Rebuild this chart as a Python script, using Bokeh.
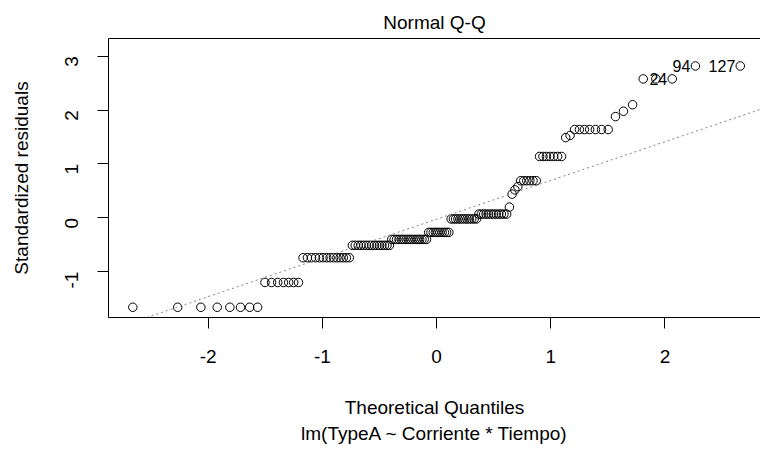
import math
import numpy as np
from bokeh.plotting import figure
from bokeh.models import Range1d, FixedTicker, LinearAxis, Slope, Title, ColumnDataSource
from bokeh.embed import file_html
from bokeh.resources import INLINE
from bokeh.core.properties import value

# ---- data ----
theoretical_quantiles = [
    -2.660, -2.267, -2.064, -1.921, -1.810, -1.717, -1.637, -1.567,
    -1.503, -1.445, -1.391, -1.341, -1.295, -1.251, -1.209, -1.169,
    -1.131, -1.095, -1.060, -1.026, -0.994, -0.962, -0.932, -0.902,
    -0.873, -0.845, -0.817, -0.790, -0.764, -0.737, -0.712, -0.686,
    -0.662, -0.638, -0.614, -0.590, -0.567, -0.545, -0.522, -0.500,
    -0.478, -0.456, -0.434, -0.413, -0.392, -0.371, -0.350, -0.329,
    -0.308, -0.288, -0.267, -0.247, -0.227, -0.207, -0.187, -0.167,
    -0.148, -0.128, -0.108, -0.088, -0.069, -0.049, -0.029, -0.010,
    0.010, 0.029, 0.049, 0.069, 0.088, 0.108, 0.128, 0.148,
    0.167, 0.187, 0.207, 0.227, 0.247, 0.267, 0.288, 0.308,
    0.329, 0.350, 0.371, 0.392, 0.413, 0.434, 0.456, 0.478,
    0.500, 0.522, 0.545, 0.567, 0.590, 0.614, 0.638, 0.662,
    0.686, 0.712, 0.737, 0.764, 0.790, 0.817, 0.845, 0.873,
    0.902, 0.932, 0.962, 0.994, 1.026, 1.060, 1.095, 1.131,
    1.169, 1.209, 1.251, 1.295, 1.341, 1.391, 1.445, 1.503,
    1.567, 1.637, 1.717, 1.810, 1.921, 2.064, 2.267, 2.660,
]

standardized_residuals = [
    -1.66, -1.66, -1.66, -1.66, -1.66, -1.66, -1.66, -1.66,
    -1.20, -1.20, -1.20, -1.20, -1.20, -1.20, -1.20,
    -0.74, -0.74, -0.74, -0.74, -0.74, -0.74, -0.74,
    -0.74, -0.74, -0.74, -0.74, -0.74, -0.74, -0.74,
    -0.51, -0.51, -0.51, -0.51, -0.51, -0.51, -0.51, -0.51,
    -0.51, -0.51, -0.51, -0.51, -0.51, -0.51, -0.51,
    -0.40, -0.40, -0.40, -0.40, -0.40, -0.40, -0.40, -0.40,
    -0.40, -0.40, -0.40, -0.40, -0.40, -0.40, -0.40, -0.40,
    -0.27, -0.27, -0.27, -0.27, -0.27, -0.27, -0.27, -0.27, -0.27, -0.27,
    -0.02, -0.02, -0.02, -0.02, -0.02, -0.02,
    -0.02, -0.02, -0.02, -0.02, -0.02, -0.02,
    0.07, 0.07, 0.07, 0.07, 0.07, 0.07,
    0.07, 0.07, 0.07, 0.07, 0.07, 0.07,
    0.20, 0.44, 0.52, 0.58,
    0.69, 0.69, 0.69, 0.69, 0.69, 0.69,
    1.14, 1.14, 1.14, 1.14, 1.14, 1.14, 1.14,
    1.49, 1.53,
    1.64, 1.64, 1.64, 1.64, 1.64, 1.64, 1.64,
    1.88, 1.98, 2.10,
    2.58, 2.58, 2.58,
    2.82, 2.82,
]

id_labels = ["24", "94", "127"]
id_rank = [125, 126, 127]          # positions in the sorted residuals
x_ticks = [-2, -1, 0, 1, 2]
x_tick_labels = ["-2", "-1", "0", "1", "2"]
y_ticks = [-1, 0, 1, 2, 3]
y_tick_labels = ["-1", "0", "1", "2", "3"]

FONT = "Liberation Sans"

p = figure(width=760, height=450, output_backend="svg", toolbar_location=None,
           x_range=Range1d(-2.873, 2.837), y_range=Range1d(-1.85, 3.33),
           min_border_left=108, min_border_right=0, min_border_top=38,
           min_border_bottom=133)
p.background_fill_color = "white"
p.border_fill_color = "white"
p.outline_line_color = None
p.xgrid.visible = False
p.ygrid.visible = False

p.title.text = "Normal Q-Q"
p.title.align = "center"
p.title.text_font = FONT
p.title.text_font_style = "normal"
p.title.text_font_size = "19px"
p.title.text_color = "black"
p.title.standoff = 11

for ax, ticks, labels in ((p.xaxis[0], x_ticks, x_tick_labels),
                          (p.yaxis[0], y_ticks, y_tick_labels)):
    ax.ticker = FixedTicker(ticks=ticks)
    ax.major_label_overrides = {t: s for t, s in zip(ticks, labels)}
    ax.minor_tick_line_color = None
    ax.major_tick_in = 0
    ax.major_tick_out = 11
    ax.major_tick_line_color = "black"
    ax.axis_line_color = "black"
    ax.major_label_text_font = FONT
    ax.major_label_text_font_size = "19px"
    ax.major_label_text_color = "black"
    ax.axis_label_text_font = FONT
    ax.axis_label_text_font_size = "19px"
    ax.axis_label_text_font_style = "normal"
    ax.axis_label_text_color = "black"

p.xaxis[0].axis_label = "Theoretical Quantiles"
p.xaxis[0].major_label_standoff = 21
p.xaxis[0].axis_label_standoff = 31
p.yaxis[0].axis_label = "Standardized residuals"
p.yaxis[0].major_label_orientation = math.pi / 2
p.yaxis[0].major_label_standoff = 26
p.yaxis[0].axis_label_standoff = 24

top_axis = LinearAxis(ticker=FixedTicker(ticks=[]), axis_line_color="black",
                      major_tick_line_color=None, minor_tick_line_color=None,
                      major_label_text_font_size="0px", major_label_standoff=0)
p.add_layout(top_axis, "above")

sub = Title(text="lm(TypeA ~ Corriente * Tiempo)", align="center",
            text_font=FONT, text_font_size="19px", text_font_style="normal",
            text_color="black", standoff=0)
p.add_layout(sub, "below")

src = ColumnDataSource(dict(x=theoretical_quantiles, y=standardized_residuals))

# reference line through the quartiles
q1, q3 = np.quantile(standardized_residuals, [0.25, 0.75])
z1, z3 = -0.6744897501960817, 0.6744897501960817
slope = (q3 - q1) / (z3 - z1)
intercept = q1 - slope * z1
p.add_layout(Slope(gradient=slope, y_intercept=intercept, line_color="#808080",
                   line_width=1, line_dash="2 3"))

p.scatter("x", "y", source=src, marker="circle", size=8.5, fill_color=None,
          line_color="black", line_width=1)

lab_src = ColumnDataSource(dict(
    x=[theoretical_quantiles[i] for i in id_rank],
    y=[standardized_residuals[i] for i in id_rank],
    t=id_labels))
p.text("x", "y", text="t", source=lab_src, text_align="right",
       text_baseline="middle", x_offset=-5, text_font=value(FONT),
       text_font_size="16px", text_color="black")

open("out.html", "w").write(file_html(p, INLINE))
